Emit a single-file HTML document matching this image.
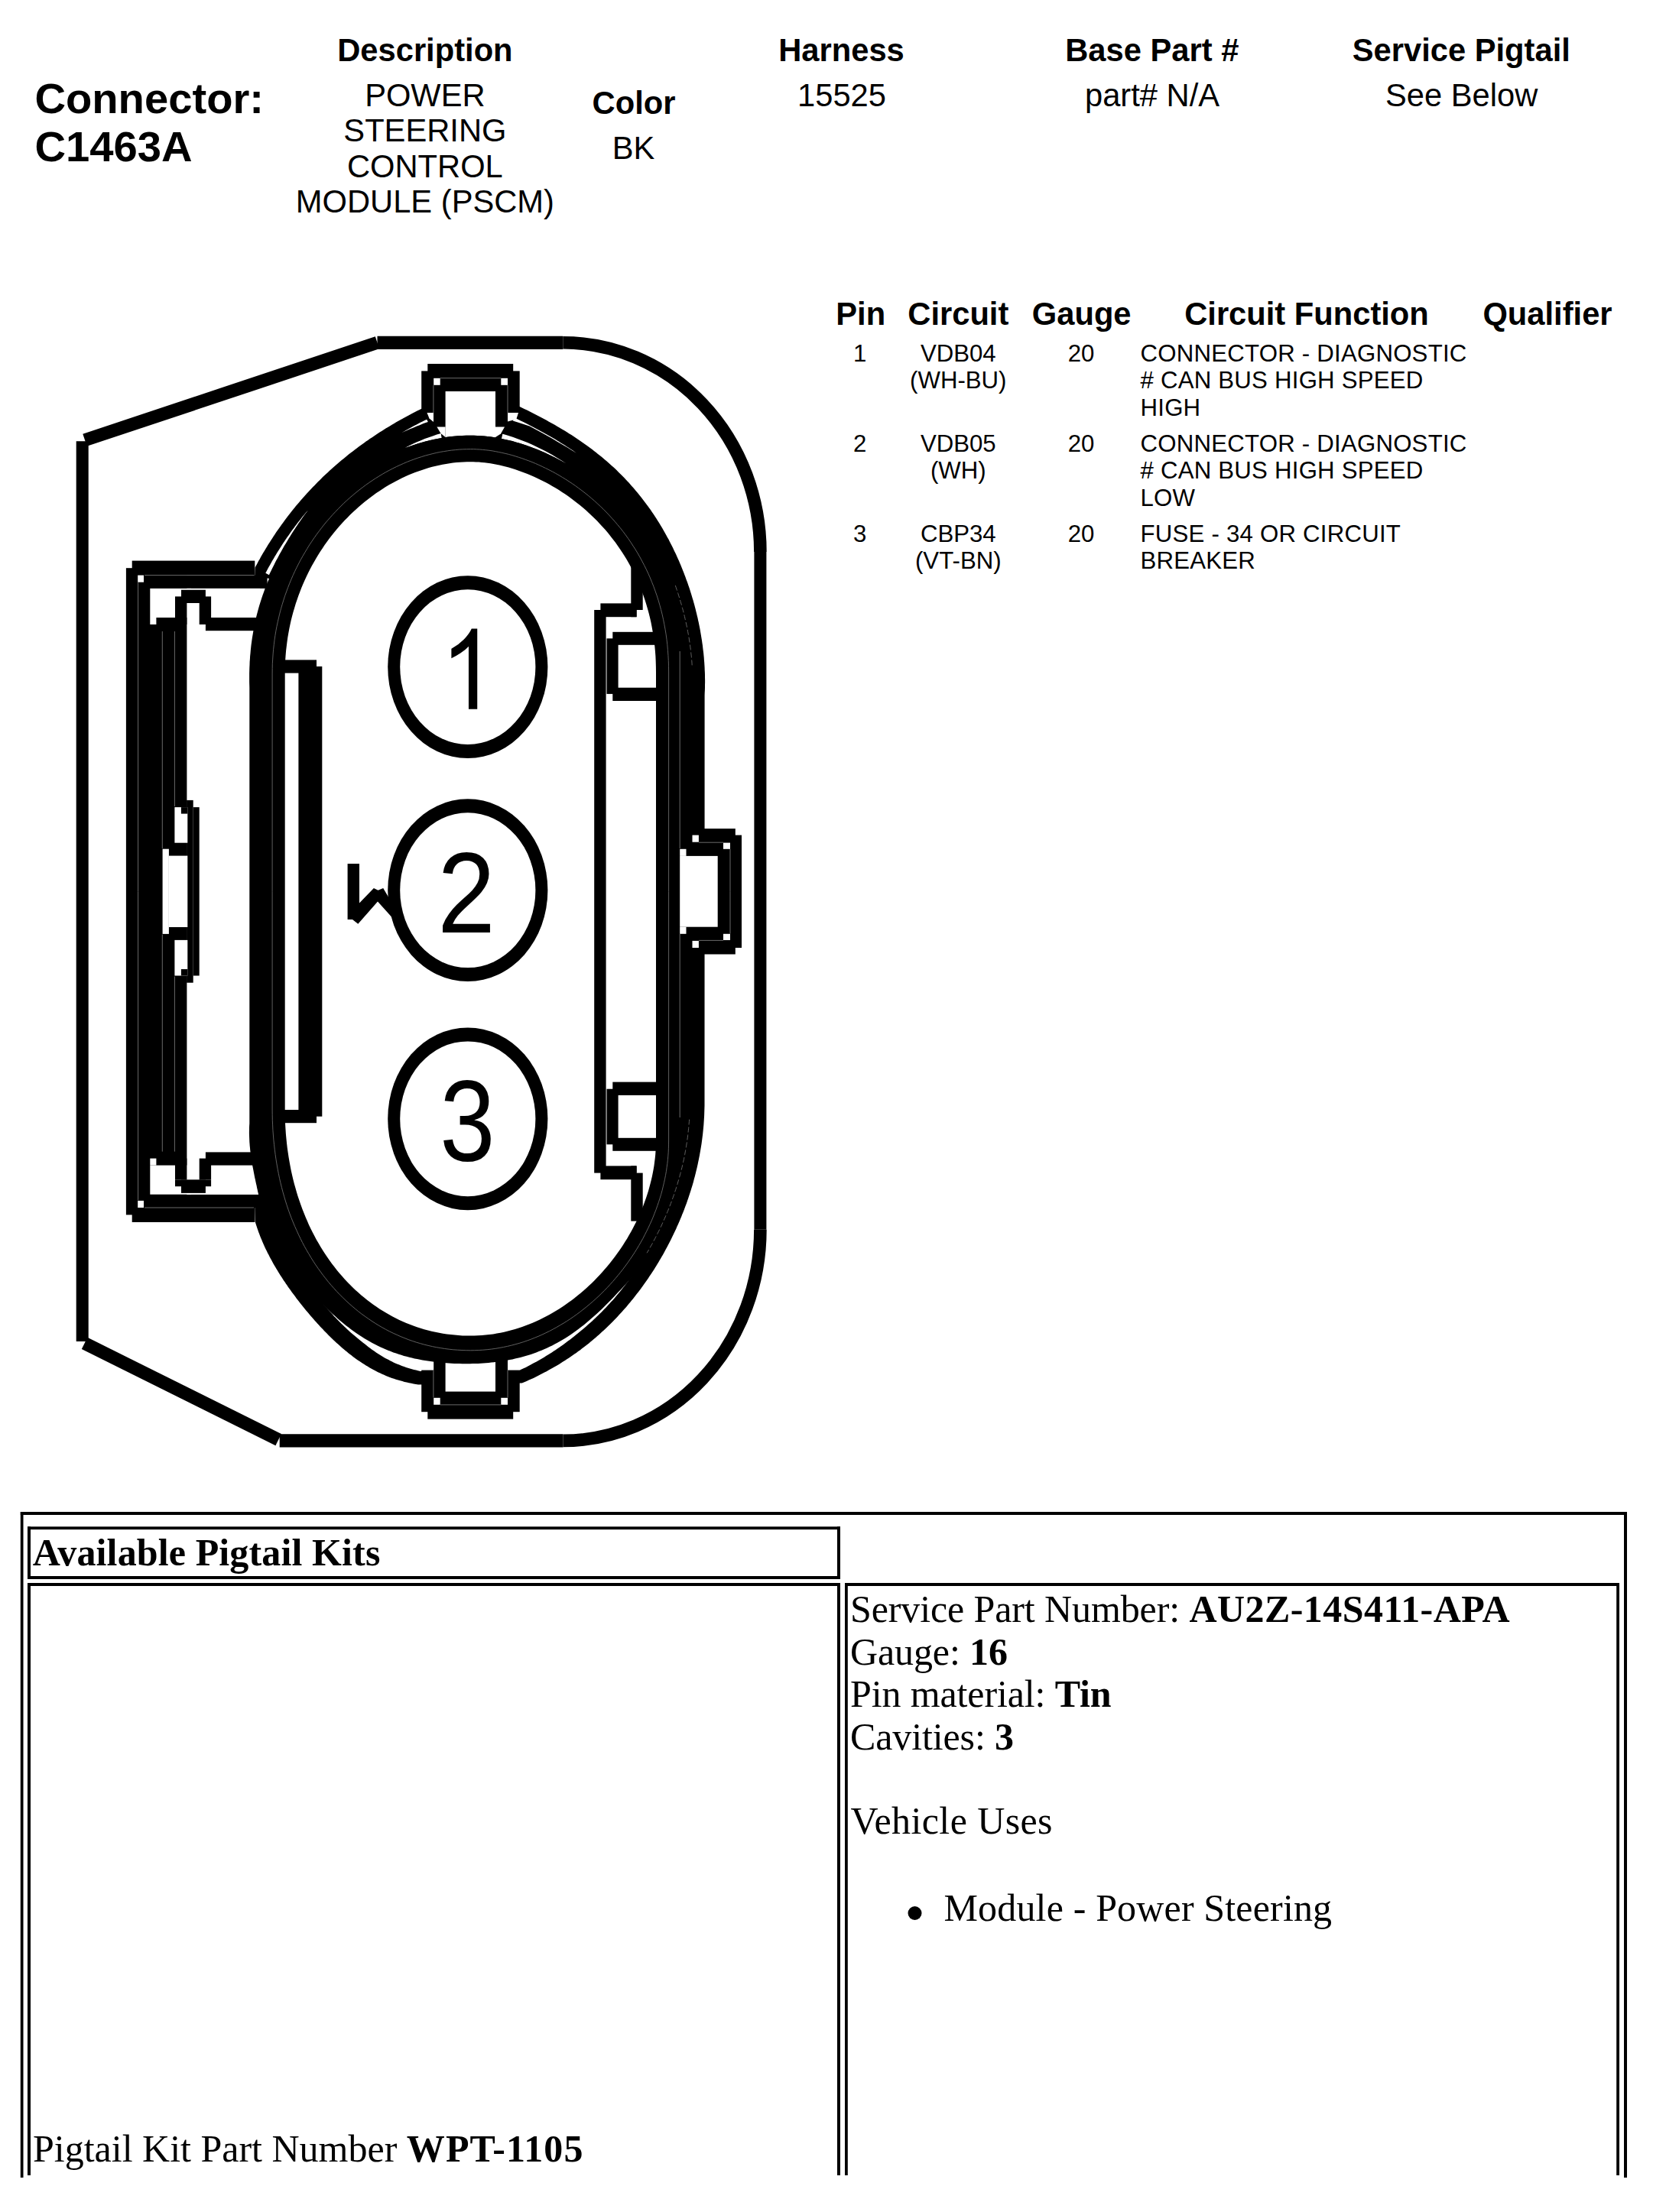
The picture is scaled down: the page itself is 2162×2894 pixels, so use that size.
<!DOCTYPE html>
<html><head><meta charset="utf-8"><title>Connector C1463A</title>
<style>html,body{margin:0;padding:0;background:#fff;}svg{display:block;}text{fill:#000;}</style>
</head><body>
<svg width="2162" height="2894" viewBox="0 0 2162 2894">
<rect x="0" y="0" width="2162" height="2894" fill="#fff"/>
<text x="45.4" y="147.6" font-family="'Liberation Sans', sans-serif" font-size="56.2" font-weight="bold" text-anchor="start">Connector:</text>
<text x="45.4" y="210.7" font-family="'Liberation Sans', sans-serif" font-size="56.2" font-weight="bold" text-anchor="start">C1463A</text>
<text x="555.9" y="80" font-family="'Liberation Sans', sans-serif" font-size="41.7" font-weight="bold" text-anchor="middle">Description</text>
<text x="555.9" y="138.6" font-family="'Liberation Sans', sans-serif" font-size="41.7" font-weight="normal" text-anchor="middle">POWER</text>
<text x="555.9" y="185.1" font-family="'Liberation Sans', sans-serif" font-size="41.7" font-weight="normal" text-anchor="middle">STEERING</text>
<text x="555.9" y="231.6" font-family="'Liberation Sans', sans-serif" font-size="41.7" font-weight="normal" text-anchor="middle">CONTROL</text>
<text x="555.9" y="278.1" font-family="'Liberation Sans', sans-serif" font-size="41.7" font-weight="normal" text-anchor="middle">MODULE (PSCM)</text>
<text x="829" y="149" font-family="'Liberation Sans', sans-serif" font-size="41.7" font-weight="bold" text-anchor="middle">Color</text>
<text x="828.5" y="208" font-family="'Liberation Sans', sans-serif" font-size="41.7" font-weight="normal" text-anchor="middle">BK</text>
<text x="1100.5" y="80" font-family="'Liberation Sans', sans-serif" font-size="41.7" font-weight="bold" text-anchor="middle">Harness</text>
<text x="1101" y="138.6" font-family="'Liberation Sans', sans-serif" font-size="41.7" font-weight="normal" text-anchor="middle">15525</text>
<text x="1506.8" y="80" font-family="'Liberation Sans', sans-serif" font-size="41.7" font-weight="bold" text-anchor="middle">Base Part #</text>
<text x="1507" y="138.6" font-family="'Liberation Sans', sans-serif" font-size="41.7" font-weight="normal" text-anchor="middle">part# N/A</text>
<text x="1911.3" y="80" font-family="'Liberation Sans', sans-serif" font-size="41.7" font-weight="bold" text-anchor="middle">Service Pigtail</text>
<text x="1911.6" y="138.6" font-family="'Liberation Sans', sans-serif" font-size="41.7" font-weight="normal" text-anchor="middle">See Below</text>
<text x="1125.7" y="424.7" font-family="'Liberation Sans', sans-serif" font-size="41.7" font-weight="bold" text-anchor="middle">Pin</text>
<text x="1253.3" y="424.7" font-family="'Liberation Sans', sans-serif" font-size="41.7" font-weight="bold" text-anchor="middle">Circuit</text>
<text x="1414.7" y="424.7" font-family="'Liberation Sans', sans-serif" font-size="41.7" font-weight="bold" text-anchor="middle">Gauge</text>
<text x="1709" y="424.7" font-family="'Liberation Sans', sans-serif" font-size="41.7" font-weight="bold" text-anchor="middle">Circuit Function</text>
<text x="2024" y="424.7" font-family="'Liberation Sans', sans-serif" font-size="41.7" font-weight="bold" text-anchor="middle">Qualifier</text>
<text x="1124.7" y="473.3" font-family="'Liberation Sans', sans-serif" font-size="31.2" font-weight="normal" text-anchor="middle">1</text>
<text x="1253.3" y="473.3" font-family="'Liberation Sans', sans-serif" font-size="31.2" font-weight="normal" text-anchor="middle">VDB04</text>
<text x="1253.3" y="508.4" font-family="'Liberation Sans', sans-serif" font-size="31.2" font-weight="normal" text-anchor="middle">(WH-BU)</text>
<text x="1414" y="473.3" font-family="'Liberation Sans', sans-serif" font-size="31.2" font-weight="normal" text-anchor="middle">20</text>
<text x="1491.5" y="473.3" font-family="'Liberation Sans', sans-serif" font-size="31.2" font-weight="normal" text-anchor="start" letter-spacing="0.22">CONNECTOR - DIAGNOSTIC</text>
<text x="1491.5" y="508.4" font-family="'Liberation Sans', sans-serif" font-size="31.2" font-weight="normal" text-anchor="start" letter-spacing="0.22"># CAN BUS HIGH SPEED</text>
<text x="1491.5" y="543.5" font-family="'Liberation Sans', sans-serif" font-size="31.2" font-weight="normal" text-anchor="start" letter-spacing="0.22">HIGH</text>
<text x="1124.7" y="591.3" font-family="'Liberation Sans', sans-serif" font-size="31.2" font-weight="normal" text-anchor="middle">2</text>
<text x="1253.3" y="591.3" font-family="'Liberation Sans', sans-serif" font-size="31.2" font-weight="normal" text-anchor="middle">VDB05</text>
<text x="1253.3" y="626.4" font-family="'Liberation Sans', sans-serif" font-size="31.2" font-weight="normal" text-anchor="middle">(WH)</text>
<text x="1414" y="591.3" font-family="'Liberation Sans', sans-serif" font-size="31.2" font-weight="normal" text-anchor="middle">20</text>
<text x="1491.5" y="591.3" font-family="'Liberation Sans', sans-serif" font-size="31.2" font-weight="normal" text-anchor="start" letter-spacing="0.22">CONNECTOR - DIAGNOSTIC</text>
<text x="1491.5" y="626.4" font-family="'Liberation Sans', sans-serif" font-size="31.2" font-weight="normal" text-anchor="start" letter-spacing="0.22"># CAN BUS HIGH SPEED</text>
<text x="1491.5" y="661.5" font-family="'Liberation Sans', sans-serif" font-size="31.2" font-weight="normal" text-anchor="start" letter-spacing="0.22">LOW</text>
<text x="1124.7" y="709.3" font-family="'Liberation Sans', sans-serif" font-size="31.2" font-weight="normal" text-anchor="middle">3</text>
<text x="1253.3" y="709.3" font-family="'Liberation Sans', sans-serif" font-size="31.2" font-weight="normal" text-anchor="middle">CBP34</text>
<text x="1253.3" y="744.4" font-family="'Liberation Sans', sans-serif" font-size="31.2" font-weight="normal" text-anchor="middle">(VT-BN)</text>
<text x="1414" y="709.3" font-family="'Liberation Sans', sans-serif" font-size="31.2" font-weight="normal" text-anchor="middle">20</text>
<text x="1491.5" y="709.3" font-family="'Liberation Sans', sans-serif" font-size="31.2" font-weight="normal" text-anchor="start" letter-spacing="0.22">FUSE - 34 OR CIRCUIT</text>
<text x="1491.5" y="744.4" font-family="'Liberation Sans', sans-serif" font-size="31.2" font-weight="normal" text-anchor="start" letter-spacing="0.22">BREAKER</text>
<rect x="26.8" y="1978" width="2101.2" height="4" fill="#000"/>
<rect x="26.8" y="1978" width="3.7" height="871" fill="#000"/>
<rect x="2124" y="1978" width="4" height="871" fill="#000"/>
<rect x="36" y="1997.3" width="1063" height="3.8" fill="#000"/>
<rect x="36" y="2062" width="1063" height="4" fill="#000"/>
<rect x="36" y="1997.3" width="4" height="68.7" fill="#000"/>
<rect x="1095" y="1997.3" width="4" height="68.7" fill="#000"/>
<rect x="36" y="2071" width="1063" height="4" fill="#000"/>
<rect x="36" y="2071" width="4" height="775" fill="#000"/>
<rect x="1095" y="2071" width="4" height="775" fill="#000"/>
<rect x="1105" y="2071" width="1013" height="4" fill="#000"/>
<rect x="1105" y="2071" width="3.8" height="775" fill="#000"/>
<rect x="2114.2" y="2071" width="3.8" height="775" fill="#000"/>
<text x="42.8" y="2048.3" font-family="'Liberation Serif', serif" font-size="50" font-weight="bold" text-anchor="start" letter-spacing="0.13">Available Pigtail Kits</text>
<text x="43" y="2828" font-family="'Liberation Serif', serif" font-size="50">Pigtail Kit Part Number <tspan font-weight="bold" letter-spacing="1.05">WPT-1105</tspan></text>
<text x="1112" y="2122" font-family="'Liberation Serif', serif" font-size="50" letter-spacing="-0.11">Service Part Number: <tspan font-weight="bold" letter-spacing="0.45">AU2Z-14S411-APA</tspan></text>
<text x="1112" y="2177.5" font-family="'Liberation Serif', serif" font-size="50" letter-spacing="-0.12">Gauge: <tspan font-weight="bold" letter-spacing="-0.12">16</tspan></text>
<text x="1112" y="2233" font-family="'Liberation Serif', serif" font-size="50" letter-spacing="-0.12">Pin material: <tspan font-weight="bold" letter-spacing="-0.12">Tin</tspan></text>
<text x="1112" y="2288.5" font-family="'Liberation Serif', serif" font-size="50" letter-spacing="-0.12">Cavities: <tspan font-weight="bold" letter-spacing="-0.12">3</tspan></text>
<text x="1112.5" y="2398.8" font-family="'Liberation Serif', serif" font-size="50" font-weight="normal" text-anchor="start" letter-spacing="0.4">Vehicle Uses</text>
<circle cx="1196.5" cy="2503" r="9" fill="#000"/>
<text x="1234.5" y="2512.6" font-family="'Liberation Serif', serif" font-size="50" font-weight="normal" text-anchor="start" letter-spacing="0.16">Module - Power Steering</text>
<g id="drawing">
<line x1="107.7" y1="577.3" x2="107.7" y2="1754.9" stroke="#000" stroke-width="16"/>
<line x1="111" y1="575.8" x2="493.5" y2="448.3" stroke="#000" stroke-width="17"/>
<line x1="110.6" y1="1757.4" x2="364.2" y2="1883.7" stroke="#000" stroke-width="17"/>
<line x1="493.5" y1="448.3" x2="736.3" y2="448.3" stroke="#000" stroke-width="17.3"/>
<line x1="365.7" y1="1884.9" x2="736.4" y2="1884.9" stroke="#000" stroke-width="17.4"/>
<line x1="994.4" y1="722" x2="994.4" y2="1608.7" stroke="#000" stroke-width="16"/>
<path d="M736.3 448.3A258.1 273.7 0 0 1 994.4 722" fill="none" stroke="#000" stroke-width="16.6"/>
<path d="M994.4 1608.7A258 276.2 0 0 1 736.4 1884.9" fill="none" stroke="#000" stroke-width="16.6"/>
<rect x="164.9" y="743.2" width="79.5" height="846.2" fill="#000"/>
<rect x="172.7" y="733.6" width="160.6" height="19" fill="#000"/>
<rect x="172.7" y="1580" width="160.6" height="19" fill="#000"/>
<rect x="188" y="752.6" width="161.6" height="17.3" fill="#000"/>
<rect x="188" y="1562.7" width="161.6" height="17.3" fill="#000"/>
<rect x="180.2" y="752.6" width="7.8" height="9.1" fill="#fff"/>
<rect x="180.2" y="1570.9" width="7.8" height="9.1" fill="#fff"/>
<rect x="196.3" y="769.9" width="53.7" height="38.1" fill="#fff"/>
<rect x="196.3" y="1524.6" width="53.7" height="38.1" fill="#fff"/>
<rect x="196.3" y="808" width="8.1" height="9" fill="#fff"/>
<rect x="196.3" y="1515.6" width="8.1" height="9" fill="#fff"/>
<rect x="244.4" y="769.9" width="95.6" height="38.1" fill="#fff"/>
<rect x="244.4" y="1524.6" width="95.6" height="38.1" fill="#fff"/>
<rect x="237" y="771.7" width="31.9" height="17.3" fill="#000"/>
<rect x="237" y="1543.6" width="31.9" height="17.3" fill="#000"/>
<rect x="229" y="780.4" width="47.1" height="8.6" fill="#000"/>
<rect x="229" y="1543.6" width="47.1" height="8.6" fill="#000"/>
<rect x="229" y="789" width="15.4" height="28" fill="#000"/>
<rect x="229" y="1515.6" width="15.4" height="28" fill="#000"/>
<rect x="260.7" y="789" width="15.4" height="28" fill="#000"/>
<rect x="260.7" y="1515.6" width="15.4" height="28" fill="#000"/>
<rect x="268.9" y="808" width="67.1" height="17.2" fill="#000"/>
<rect x="268.9" y="1507.4" width="67.1" height="17.2" fill="#000"/>
<rect x="244.1" y="1046.9" width="8.6" height="238.8" fill="#000"/>
<rect x="252.7" y="1056.1" width="8" height="220.4" fill="#000"/>
<rect x="228.4" y="1056.1" width="16.9" height="46.6" fill="#fff"/>
<rect x="228.4" y="1229.9" width="16.9" height="46.6" fill="#fff"/>
<rect x="236.9" y="1056.1" width="8.4" height="8.5" fill="#000"/>
<rect x="236.9" y="1268" width="8.4" height="8.5" fill="#000"/>
<rect x="220.9" y="1119.6" width="24.4" height="93.4" fill="#fff"/>
<rect x="212.6" y="1110.7" width="8.3" height="111.2" fill="#fff"/>
<path d="M333.3 753L333.6 742.6L335.1 739.8L336.6 736.9L338.1 734.1L339.7 731.4L341.2 728.6L342.8 725.8L344.4 723.1L346 720.4L347.6 717.7L349.3 715L350.9 712.3L352.6 709.7L354.3 707L356 704.4L357.7 701.8L359.4 699.2L361.1 696.6L362.9 694L364.7 691.5L366.5 689L368.2 686.4L370.1 683.9L371.9 681.5L373.7 679L375.6 676.5L377.5 674.1L379.3 671.7L381.2 669.2L383.2 666.8L385.1 664.5L387 662.1L389 659.7L391 657.4L393 655.1L395 652.8L397 650.5L399 648.2L401 645.9L403.1 643.7L405.2 641.5L407.3 639.2L409.4 637L411.5 634.9L413.6 632.7L415.7 630.5L417.9 628.4L420.1 626.2L422.2 624.1L424.4 622L426.6 619.9L428.9 617.9L431.1 615.8L433.4 613.8L435.6 611.7L437.9 609.7L440.2 607.7L442.5 605.7L444.8 603.8L447.2 601.8L449.5 599.9L451.9 597.9L454.2 596L456.6 594.1L459 592.2L461.4 590.4L463.9 588.5L466.3 586.7L468.8 584.8L471.2 583L473.7 581.2L476.2 579.4L478.7 577.6L481.2 575.9L483.8 574.1L486.3 572.4L488.9 570.7L491.4 569L494 567.3L496.6 565.6L499.2 563.9L501.9 562.3L504.5 560.6L507.2 559L509.8 557.4L512.5 555.8L515.2 554.2L517.9 552.6L520.6 551.1L523.3 549.5L526.1 548L528.8 546.5L531.6 545L534.4 543.5L537.1 542L539.9 540.5L542.8 539.1L545.6 537.6L548.4 536.2L551.3 534.8L679.7 532L682.7 533.4L685.7 534.9L688.6 536.3L691.6 537.8L694.5 539.3L697.4 540.8L700.3 542.2L703.2 543.7L706.1 545.3L709 546.8L711.8 548.3L714.7 549.8L717.5 551.4L720.3 552.9L723.1 554.5L725.9 556.1L728.6 557.7L731.3 559.3L734.1 560.9L736.8 562.5L739.4 564.1L742.1 565.8L744.7 567.4L747.4 569.1L750 570.8L752.6 572.5L755.1 574.2L757.7 575.9L760.2 577.7L762.7 579.4L765.2 581.2L767.7 582.9L770.1 584.7L772.5 586.5L774.9 588.3L777.3 590.2L779.7 592L782 593.9L784.3 595.7L786.6 597.6L788.9 599.5L791.2 601.4L793.4 603.3L795.6 605.3L797.8 607.2L800 609.2L802.1 611.1L804.3 613.1L806.4 615.1L808.5 617.2L810.5 619.2L812.6 621.2L814.6 623.3L816.6 625.3L818.6 627.4L820.5 629.5L822.5 631.6L824.4 633.7L826.3 635.9L828.2 638L830.1 640.2L831.9 642.4L833.7 644.5L835.5 646.7L837.3 649L839.1 651.2L840.8 653.4L842.5 655.7L844.2 657.9L845.9 660.2L847.6 662.5L849.2 664.8L850.9 667.1L852.5 669.4L854.1 671.7L855.6 674.1L857.2 676.4L858.7 678.8L860.2 681.2L861.7 683.6L863.2 686L864.7 688.4L866.1 690.8L867.5 693.3L868.9 695.7L870.3 698.2L871.7 700.7L873 703.2L874.4 705.6L875.7 708.2L877 710.7L878.3 713.2L879.6 715.7L880.8 718.3L882 720.9L883.3 723.4L884.5 726L885.6 728.6L886.8 731.2L888 733.8L889.1 736.5L890.2 739.1L891.3 741.7L892.4 744.4L893.4 747.1L894.5 749.7L895.5 752.4L896.5 755.1L897.5 757.9L898.5 760.6L899.5 763.3L900.4 766.1L901.4 768.8L902.3 771.6L903.2 774.4L904 777.1L904.9 779.9L905.7 782.8L906.6 785.6L907.4 788.4L908.2 791.3L908.9 794.1L909.7 797L910.4 799.9L911.1 802.8L911.8 805.7L912.5 808.6L913.1 811.5L913.8 814.5L914.4 817.4L915 820.4L915.6 823.4L916.1 826.4L916.6 829.4L917.1 832.4L917.6 835.5L918.1 838.5L918.5 841.6L919 844.7L919.3 847.8L919.7 850.9L920.1 854L920.4 857.2L920.7 860.3L920.9 863.5L921.2 866.7L921.4 869.9L921.6 873.2L921.7 876.4L921.9 879.7L922 883L922 886.3L922.1 889.6L922.1 893L922 896.3L922 899.7L921.9 903.1L921.7 906.6L921.6 910L921.5 1440L921.5 1443.3L921.5 1446.6L921.4 1449.8L921.3 1453.1L921.2 1456.3L921.1 1459.5L920.9 1462.7L920.7 1465.9L920.5 1469L920.3 1472.2L920 1475.3L919.7 1478.4L919.4 1481.5L919.1 1484.5L918.7 1487.6L918.3 1490.7L917.9 1493.7L917.5 1496.7L917 1499.7L916.5 1502.7L916 1505.7L915.5 1508.6L915 1511.6L914.4 1514.5L913.8 1517.4L913.2 1520.3L912.6 1523.2L912 1526.1L911.3 1529L910.6 1531.8L909.9 1534.7L909.2 1537.5L908.5 1540.3L907.7 1543.1L907 1545.9L906.2 1548.7L905.4 1551.5L904.5 1554.2L903.7 1557L902.8 1559.7L901.9 1562.5L901 1565.2L900.1 1567.9L899.2 1570.6L898.3 1573.3L897.3 1575.9L896.3 1578.6L895.3 1581.2L894.3 1583.9L893.3 1586.5L892.2 1589.1L891.2 1591.7L890.1 1594.3L889 1596.9L887.9 1599.5L886.8 1602.1L885.6 1604.6L884.5 1607.2L883.3 1609.7L882.1 1612.3L880.9 1614.8L879.7 1617.3L878.5 1619.8L877.3 1622.3L876 1624.8L874.7 1627.2L873.4 1629.7L872.1 1632.2L870.8 1634.6L869.5 1637L868.2 1639.5L866.8 1641.9L865.4 1644.3L864 1646.7L862.6 1649.1L861.2 1651.5L859.8 1653.8L858.3 1656.2L856.9 1658.5L855.4 1660.9L853.9 1663.2L852.4 1665.5L850.9 1667.8L849.3 1670.1L847.8 1672.4L846.2 1674.7L844.6 1677L843 1679.3L841.4 1681.5L839.8 1683.8L838.2 1686L836.5 1688.2L834.8 1690.4L833.1 1692.6L831.4 1694.8L829.7 1697L828 1699.2L826.2 1701.3L824.5 1703.5L822.7 1705.6L820.9 1707.8L819.1 1709.9L817.2 1712L815.4 1714.1L813.5 1716.2L811.6 1718.3L809.7 1720.3L807.8 1722.4L805.9 1724.4L803.9 1726.5L802 1728.5L800 1730.5L798 1732.5L795.9 1734.5L793.9 1736.5L791.8 1738.4L789.7 1740.4L787.6 1742.3L785.5 1744.2L783.4 1746.2L781.2 1748.1L779.1 1749.9L776.9 1751.8L774.6 1753.7L772.4 1755.5L770.2 1757.4L767.9 1759.2L765.6 1761L763.3 1762.8L760.9 1764.6L758.6 1766.4L756.2 1768.1L753.8 1769.9L751.3 1771.6L748.9 1773.3L746.4 1775L743.9 1776.7L741.4 1778.3L738.9 1780L736.3 1781.6L733.7 1783.2L731.1 1784.9L728.5 1786.4L725.8 1788L723.1 1789.6L720.4 1791.1L717.7 1792.6L714.9 1794.2L712.1 1795.6L709.3 1797.1L706.4 1798.6L703.6 1800L700.7 1801.4L697.8 1802.9L694.8 1804.2L691.8 1805.6L688.8 1807L685.8 1808.3L682.7 1809.6L547 1811.4L543.9 1810.9L540.9 1810.4L537.8 1809.8L534.9 1809.2L531.9 1808.6L529 1807.9L526.2 1807.1L523.4 1806.3L520.6 1805.5L517.9 1804.7L515.2 1803.8L512.5 1802.9L509.9 1801.9L507.3 1800.9L504.8 1799.9L502.3 1798.8L499.8 1797.7L497.3 1796.6L494.9 1795.4L492.5 1794.2L490.2 1793L487.8 1791.7L485.5 1790.5L483.2 1789.2L481 1787.8L478.7 1786.5L476.5 1785.1L474.4 1783.7L472.2 1782.3L470 1780.8L467.9 1779.4L465.8 1777.9L463.8 1776.4L461.7 1774.9L459.7 1773.3L457.6 1771.7L455.6 1770.2L453.7 1768.6L451.7 1766.9L449.7 1765.3L447.8 1763.7L445.9 1762L444 1760.3L442.1 1758.6L440.2 1756.9L438.4 1755.2L436.5 1753.4L434.7 1751.7L432.9 1749.9L431.1 1748.2L429.3 1746.4L427.5 1744.6L425.7 1742.8L423.9 1740.9L422.2 1739.1L420.4 1737.3L418.7 1735.4L417 1733.6L415.3 1731.7L413.6 1729.8L411.9 1727.9L410.2 1726L408.5 1724.1L406.9 1722.2L405.2 1720.2L403.6 1718.3L401.9 1716.3L400.3 1714.4L398.7 1712.4L397.1 1710.4L395.5 1708.5L393.9 1706.5L392.3 1704.5L390.8 1702.4L389.2 1700.4L387.6 1698.4L386.1 1696.3L384.6 1694.3L383 1692.2L381.5 1690.2L380 1688.1L378.5 1686L377 1683.9L375.6 1681.8L374.1 1679.7L372.7 1677.5L371.2 1675.4L369.8 1673.2L368.4 1671L367 1668.9L365.6 1666.7L364.2 1664.5L362.9 1662.2L361.5 1660L360.2 1657.8L358.8 1655.5L357.5 1653.2L356.3 1650.9L355 1648.6L353.7 1646.3L352.5 1643.9L351.3 1641.6L350 1639.2L348.9 1636.8L347.7 1634.4L346.5 1632L345.4 1629.5L344.3 1627L343.2 1624.5L342.2 1622L341.1 1619.5L340.1 1616.9L339.1 1614.3L338.1 1611.7L337.2 1609L336.3 1606.4L335.4 1603.7L334.5 1601L333.7 1598.2L333.3 1580L340 1572L339.5 1569.4L338.9 1566.8L338.4 1564.2L337.8 1561.6L337.2 1559.1L336.7 1556.5L336.1 1553.9L335.6 1551.3L335 1548.7L334.4 1546.1L333.9 1543.5L333.3 1540.9L332.8 1538.4L332.3 1535.8L331.8 1533.2L331.3 1530.6L330.8 1528L330.3 1525.4L329.9 1522.8L329.4 1520.2L329 1517.6L328.6 1515L328.2 1512.3L327.9 1509.7L327.5 1507.1L327.2 1504.5L327 1501.9L326.7 1499.2L326.5 1496.6L326.3 1494L326.2 1491.3L326.1 1488.7L326 1486L325.9 1483.4L325.9 1480.7L326 1478L326 1475.4L326.1 1472.7L326.3 1470L326.3 900L326.2 896.2L326.1 892.4L326.1 888.6L326.1 884.8L326.1 881L326.2 877.3L326.3 873.5L326.5 869.7L326.6 866L326.9 862.3L327.1 858.5L327.5 854.8L327.8 851.1L328.2 847.3L328.6 843.6L329.1 839.9L329.6 836.2L330.2 832.6L330.8 828.9L331.4 825.2L332.1 821.6L332.8 817.9L333.6 814.2L334.4 810.6L335.2 807L336.1 803.4L337.1 799.7L338.1 796.1L339.1 792.5L340.2 788.9L341.3 785.4L342.5 781.8L343.7 778.2L345 774.7L346.3 771.1L347.6 767.6L349 764L350.5 760.5L352 757Z" fill="#000"/>
<path d="M847.5 1637L846.1 1639.3L844.8 1641.6L843.4 1643.8L842 1646.1L840.6 1648.3L839.2 1650.6L837.8 1652.8L836.3 1655L834.9 1657.2L833.4 1659.4L831.9 1661.6L830.4 1663.8L828.9 1666L827.4 1668.1L825.9 1670.3L824.3 1672.4L822.7 1674.6L821.2 1676.7L819.6 1678.8L817.9 1680.9L816.3 1683L814.7 1685.1L813 1687.2L811.4 1689.2L809.7 1691.3L808 1693.3L806.3 1695.3L804.5 1697.4L802.8 1699.4L801 1701.4L799.2 1703.3L797.5 1705.3L795.6 1707.3L793.8 1709.2L792 1711.2L790.1 1713.1L788.3 1715L786.4 1717L784.5 1718.8L782.5 1720.7L780.6 1722.6L778.6 1724.5L776.7 1726.3L774.7 1728.2L772.7 1730L770.6 1731.8L768.6 1733.6L766.5 1735.4L764.5 1737.2L762.4 1738.9L760.2 1740.7L758.1 1742.4L756 1744.2L753.8 1746L751.7 1747.7L749.5 1749.5L747.3 1751.2L745.1 1752.9L742.8 1754.6L740.6 1756.3L738.3 1758L736 1759.7L733.7 1761.3L731.3 1763L729 1764.6L726.6 1766.2L724.1 1767.8L721.7 1769.4L719.2 1771L716.8 1772.6L714.2 1774.1L711.7 1775.7L709.1 1777.2L706.5 1778.7L703.9 1780.2L701.3 1781.7L698.6 1783.1L695.9 1784.6L693.2 1786L690.4 1787.5L687.7 1788.9L684.8 1790.3L682 1791.6L679.1 1793L676.2 1794.4L549.7 1793.9L546.7 1793.2L544 1792.6L541.3 1791.9L538.7 1791.2L536.1 1790.5L533.6 1789.7L531.1 1788.9L528.6 1788L526.2 1787.2L523.8 1786.3L521.5 1785.3L519.2 1784.4L516.9 1783.4L514.7 1782.4L512.5 1781.3L510.3 1780.2L508.2 1779.1L506.1 1778L504 1776.9L501.9 1775.7L499.9 1774.5L497.9 1773.3L495.9 1772L493.9 1770.7L491.9 1769.5L490 1768.1L488.1 1766.8L486.2 1765.4L484.3 1764.1L482.5 1762.7L480.6 1761.2L478.8 1759.8L477 1758.3L475.2 1756.9L473.4 1755.5L471.5 1754L469.7 1752.6L467.9 1751.1L466.1 1749.6L464.3 1748.1L462.5 1746.6L460.7 1745.1L458.9 1743.5L457.2 1741.9L455.4 1740.3L453.7 1738.7L452 1737.1L450.3 1735.5L448.6 1733.8L446.9 1732.2L445.2 1730.5L443.5 1728.8L441.8 1727.1L440.1 1725.3L438.5 1723.6L436.8 1721.9L435.2 1720.1L433.6 1718.3L431.9 1716.6L430.3 1714.8L428.7 1713L427.1 1711.1L425.5 1709.3L423.9 1707.5L422.4 1705.6L420.8 1703.8L419.2 1701.9L417.7 1700.1L416.1 1698.2L414.6 1696.3L413.1 1694.4L411.5 1692.5L410 1690.6L408.5 1688.6L407 1686.7L405.6 1684.8L404.1 1682.8L402.6 1680.9L401.2 1678.9L399.7 1676.9L398.3 1675L396.9 1673L395.5 1671L394.1 1669Z" fill="#fff"/>
<rect x="559.3" y="476" width="111.9" height="19" fill="#000"/>
<rect x="559.3" y="1837.6" width="111.9" height="19" fill="#000"/>
<rect x="551.2" y="485.4" width="128.5" height="54.6" fill="#000"/>
<rect x="551.2" y="1792.6" width="128.5" height="54.6" fill="#000"/>
<rect x="567.2" y="503.8" width="96.8" height="54.8" fill="#000"/>
<rect x="567.2" y="1774" width="96.8" height="54.8" fill="#000"/>
<rect x="582.6" y="512" width="65.4" height="63" fill="#fff"/>
<rect x="582.6" y="1757.6" width="65.4" height="63" fill="#fff"/>
<rect x="567.2" y="494.8" width="8.5" height="9" fill="#fff"/>
<rect x="567.2" y="1828.8" width="8.5" height="9" fill="#fff"/>
<rect x="655.3" y="494.8" width="8.7" height="9" fill="#fff"/>
<rect x="655.3" y="1828.8" width="8.7" height="9" fill="#fff"/>
<path d="M347.3 749.8L348.8 747.1L350.2 744.3L351.7 741.6L353.2 738.9L354.7 736.3L356.2 733.6L357.8 730.9L359.3 728.3L360.9 725.7L362.5 723.1L364.1 720.5L365.7 717.9L367.3 715.4L369 712.8L370.6 710.3L372.3 707.8L374 705.3L375.7 702.8L377.4 700.4L379.1 697.9L380.8 695.5L382.6 693.1L384.4 690.7L386.1 688.3L387.9 685.9L389.7 683.5L391.6 681.2L393.4 678.9L395.2 676.6L397.1 674.3L399 672L400.9 669.7L402.8 667.4L402.8 667.5L401.1 669.9L399.3 672.2L397.6 674.6L395.8 677L394.1 679.5L392.4 681.9L390.7 684.3L389.1 686.8L387.4 689.2L385.8 691.7L384.1 694.2L382.5 696.7L380.9 699.2L379.4 701.8L377.8 704.3L376.2 706.9L374.7 709.4L373.2 712L371.6 714.6L370.1 717.2L368.7 719.8L367.2 722.4L365.7 725.1L364.3 727.7L362.9 730.4L361.4 733.1L360 735.8L358.7 738.5L357.3 741.2L355.9 743.9L354.6 746.7L353.2 749.5L351.9 752.3Z" fill="#fff"/>
<path d="M525.6 566L528.3 564.5L530.9 563L533.6 561.5L536.3 560L539 558.6L541.7 557.1L544.4 555.7L547.1 554.3L549.8 552.8L552.6 551.4L555.4 550.1L558.2 548.7L559.8 551.9L556.8 553L553.9 554.1L551.1 555.2L548.2 556.4L545.3 557.5L542.5 558.7L539.7 559.9L536.8 561.1L534 562.3L531.2 563.6L528.4 564.8L525.7 566.1Z" fill="#fff"/>
<path d="M672.7 546.4L675.7 547.8L678.6 549.3L681.5 550.7L684.4 552.1L687.3 553.6L690.2 555L693 556.5L695.9 557.9L698.7 559.4L701.5 560.9L704.3 562.4L707 563.9L709.8 565.4L712.5 566.9L715.2 568.4L717.9 570L720.6 571.5L723.2 573.1L725.9 574.6L728.5 576.2L731.1 577.8L733.6 579.4L736.2 581L738.7 582.6L741.2 584.2L743.7 585.8L746.2 587.5L748.7 589.1L751.1 590.8L753.5 592.5L753.4 592.6L751 591L748.5 589.4L746 587.9L743.4 586.3L740.9 584.7L738.3 583.2L735.7 581.7L733.1 580.2L730.5 578.7L727.9 577.2L725.2 575.6L722.6 574.1L720 572.5L717.3 571L714.6 569.5L711.9 567.9L709.2 566.4L706.4 564.9L703.7 563.4L700.9 562L698.1 560.5L695.3 559L692.5 557.5L689.4 556.5L686.4 555.5L683.3 554.5L680.2 553.5L677.1 552.5L673.9 551.5L670.8 550.5Z" fill="#fff"/>
<path d="M664 540H678L675.3 548.5L664 551.5Z" fill="#fff"/>
<path d="M567 540H558.5L561.5 547.6L567 552Z" fill="#fff"/>
<path d="M338.2 1166.3L338.2 881L338.3 874.3L338.5 867.7L338.8 861L339.2 854.5L339.8 847.9L340.5 841.5L341.3 835L342.2 828.7L343.3 822.3L344.5 816.1L345.8 809.8L347.2 803.7L348.7 797.5L350.3 791.5L352 785.5L353.9 779.5L355.8 773.7L357.8 767.8L360 762.1L362.2 756.4L364.6 750.8L367 745.2L369.5 739.7L372.2 734.3L374.9 728.9L377.7 723.6L380.6 718.4L383.6 713.2L386.6 708.2L389.8 703.2L393 698.2L396.3 693.4L399.7 688.6L403.2 683.9L406.7 679.3L410.3 674.7L414 670.3L417.8 665.9L421.6 661.6L425.5 657.4L429.5 653.3L433.5 649.2L437.6 645.3L441.8 641.4L446 637.6L450.3 633.9L454.6 630.3L459 626.8L463.4 623.4L467.9 620.1L472.5 616.8L477.1 613.7L481.7 610.6L486.4 607.7L491.2 604.9L496 602.1L500.8 599.5L505.7 596.9L510.6 594.5L515.6 592.2L520.6 590L525.6 587.8L530.7 585.8L535.8 583.9L540.9 582.2L546.1 580.5L551.3 578.9L556.5 577.5L561.7 576.2L567 574.9L572.3 573.9L577.6 572.9L583 572.1L588.3 571.3L593.7 570.8L599.1 570.3L604.5 570L609.9 569.8L615.3 569.7L619.8 569.8L624.2 569.9L628.7 570.2L633.2 570.5L637.7 571L642.3 571.6L646.9 572.3L651.4 573L656 573.9L660.7 574.9L665.3 576L670 577.1L674.6 578.4L679.3 579.8L684 581.2L688.6 582.8L693.3 584.4L698 586.2L702.7 588L707.4 590L712.1 592L716.8 594.2L721.5 596.4L726.1 598.7L730.8 601.2L735.4 603.7L740 606.3L744.6 609L749.2 611.9L753.8 614.8L758.3 617.8L762.8 620.9L767.3 624.1L771.7 627.4L776.1 630.9L780.5 634.4L784.8 638L789.1 641.7L793.3 645.5L797.5 649.4L801.7 653.4L805.8 657.6L809.8 661.8L813.7 666.1L817.7 670.5L821.5 675L825.3 679.6L829 684.4L832.6 689.2L836.1 694.1L839.6 699.1L843 704.3L846.3 709.5L849.5 714.8L852.6 720.2L855.6 725.8L858.6 731.4L861.4 737.1L864.1 742.9L866.7 748.8L869.2 754.9L871.6 761L873.9 767.2L876.1 773.5L878.1 779.9L880 786.4L881.8 793L883.5 799.6L885 806.4L886.4 813.3L887.6 820.2L888.8 827.3L889.7 834.4L890.6 841.6L891.3 848.9L891.8 856.3L892.2 863.8L892.4 871.4L892.5 879L892.5 1166.3L864 1632.6L860.5 1635.7L857.1 1638.9L853.6 1642.3L850.2 1645.8L846.7 1649.3L843.2 1653L839.8 1656.7L836.3 1660.4L832.9 1664.2L829.4 1668L825.9 1671.8L822.5 1675.6L819 1679.4L815.6 1683.2L812.1 1686.9L808.6 1690.6L805.2 1694.3L801.7 1697.9L798.3 1701.5L794.8 1705L791.3 1708.5L787.9 1711.9L784.4 1715.2L780.9 1718.4L777.5 1721.6L774 1724.6L770.6 1727.6L767.1 1730.5L763.6 1733.4L760.2 1736.1L756.7 1738.8L753.3 1741.3L749.8 1743.8L746.3 1746.2L742.9 1748.5L739.4 1750.7L736 1752.8L732.5 1754.8L729 1756.8L725.6 1758.6L722.1 1760.4L718.7 1762.1L715.2 1763.7L711.7 1765.3L708.3 1766.7L704.8 1768.1L701.4 1769.5L697.9 1770.7L694.4 1771.9L691 1773L687.5 1774L684.1 1775L680.6 1775.9L677.1 1776.8L673.7 1777.6L670.2 1778.4L666.8 1779.1L663.3 1779.7L659.8 1780.3L656.4 1780.8L652.9 1781.3L649.5 1781.8L646 1782.2L642.5 1782.6L639.1 1782.9L635.6 1783.2L632.2 1783.5L628.7 1783.7L625.2 1783.9L621.8 1784L618.3 1784.1L614.8 1784.2L611.4 1784.2L607.9 1784.2L604.5 1784.2L601 1784.1L597.5 1784L594.1 1783.9L590.6 1783.8L587.2 1783.6L583.7 1783.3L580.2 1783.1L576.8 1782.7L573.3 1782.4L569.9 1782L566.4 1781.6L562.9 1781.1L559.5 1780.6L556 1780.1L552.6 1779.5L549.1 1778.8L545.6 1778.1L542.2 1777.4L538.7 1776.6L535.3 1775.7L531.8 1774.8L528.3 1773.9L524.9 1772.8L521.4 1771.8L518 1770.6L514.5 1769.4L511 1768.1L507.6 1766.7L504.1 1765.3L500.7 1763.8L497.2 1762.2L493.7 1760.5L490.3 1758.8L486.8 1757L483.4 1755.1L479.9 1753.1L476.4 1751L473 1748.8L469.5 1746.6L466.1 1744.2L462.6 1741.8L459.1 1739.2L455.7 1736.6L452.2 1733.9L448.7 1731.1L445.3 1728.2L441.8 1725.2L438.4 1722.1L434.9 1719L431.4 1715.7L428 1712.4L424.5 1709L421.1 1705.5L417.6 1701.9L414.1 1698.3L410.7 1694.6L407.2 1690.8L403.8 1687L400.3 1683.1L396.8 1679.2L393.4 1675.2L389.9 1671.2L386.5 1667.2L383 1663.1Z" fill="#000"/>
<path d="M530.7 585.8L535.8 583.9L540.9 582.2L546.1 580.5L551.3 578.9L556.5 577.5L561.7 576.2L567 574.9L572.3 573.9L577.6 572.9L576.7 567L571.3 568.6L566 570.4L560.8 572.2L555.6 574.1L550.5 576.2L545.4 578.3L540.4 580.6L535.4 583L530.5 585.4Z" fill="#fff"/>
<path d="M656 573.9L660.7 574.9L665.3 576L670 577.1L674.6 578.4L679.3 579.8L684 581.2L688.6 582.8L693.3 584.4L698 586.2L702.7 588L707.4 590L712.1 592L716.8 594.2L721.5 596.4L726.1 598.7L730.8 601.2L735.4 603.7L740 606.3L740.1 606.2L735.6 603.3L731.1 600.5L726.6 597.7L722.1 595.1L717.6 592.5L713 590L708.4 587.7L703.8 585.4L699.2 583.2L694.5 581.1L689.9 579.1L685.3 577.2L680.6 575.4L675.9 573.7L671.3 572L666.6 570.5L661.9 569.1L657.3 567.8Z" fill="#fff"/>
<path d="M582.6 558.6H571.4L576.5 567L582.6 572Z" fill="#fff"/>
<path d="M648 558.6H660L655 567.5L648 572Z" fill="#fff"/>
<path d="M393 698.2L396.3 693.4L399.7 688.6L403.2 683.9L406.7 679.3L410.3 674.7L414 670.3L417.8 665.9L421.6 661.6L425.5 657.4L429.5 653.3L433.5 649.2L437.6 645.3L441.8 641.4L446 637.6L450.3 633.9L454.6 630.3L459 626.8L463.4 623.4L467.9 620.1L472.5 616.8L477.1 613.7L481.7 610.6L486.4 607.7L491.2 604.9L496 602.1L500.8 599.5L505.7 596.9L510.6 594.5L515.6 592.2L520.6 590L525.6 587.8L530.7 585.8L535.8 583.9L540.9 582.2L546.1 580.5L551.3 578.9L556.5 577.5L561.7 576.2L567 574.9L572.3 573.9L577.6 572.9L583 572.1L588.3 571.3L593.7 570.8L599.1 570.3L604.5 570L609.9 569.8L615.3 569.7L619.8 569.8L624.2 569.9L628.7 570.2L633.2 570.5L637.7 571L642.3 571.6L646.9 572.3L651.4 573L656 573.9L660.7 574.9L665.3 576L670 577.1L674.6 578.4L679.3 579.8L684 581.2L688.6 582.8L693.3 584.4L698 586.2L702.7 588L707.4 590L712.1 592L716.8 594.2L721.5 596.4L726.1 598.7L730.8 601.2L735.4 603.7L740 606.3L744.6 609L749.2 611.9L753.8 614.8L758.3 617.8L762.8 620.9L767.3 624.1L771.7 627.4L776.1 630.9L780.5 634.4L784.8 638L789.1 641.7L793.3 645.5L797.5 649.4L801.7 653.4L805.8 657.6L809.8 661.8L813.7 666.1L817.7 670.5L821.5 675L825.3 679.6L829 684.4L832.6 689.2L836.1 694.1L839.6 699.1L858 879L857.9 872.1L857.7 865.2L857.4 858.5L856.9 851.8L856.3 845.2L855.5 838.7L854.6 832.3L853.6 826L852.5 819.8L851.3 813.6L849.9 807.6L848.4 801.6L846.8 795.8L845.1 790L843.3 784.3L841.4 778.7L839.4 773.2L837.2 767.8L835 762.4L832.7 757.2L830.3 752L827.8 747L825.2 742L822.5 737.1L819.8 732.3L816.9 727.6L814 723L811 718.4L807.9 714L804.8 709.6L801.6 705.4L798.3 701.2L795 697.1L791.6 693.1L788.1 689.2L784.6 685.4L781 681.6L777.4 678L773.7 674.4L770 670.9L766.3 667.6L762.5 664.3L758.6 661L754.7 657.9L750.8 654.9L746.9 652L742.9 649.1L738.9 646.3L734.9 643.7L730.9 641.1L726.8 638.6L722.7 636.2L718.6 633.8L714.5 631.6L710.4 629.4L706.3 627.4L702.2 625.4L698 623.5L693.9 621.7L689.8 620L685.7 618.4L681.6 616.9L677.5 615.4L673.4 614.1L669.3 612.8L665.3 611.6L661.2 610.5L657.2 609.5L653.2 608.6L649.3 607.7L645.4 607L641.5 606.3L637.6 605.8L633.8 605.3L630 604.9L626.3 604.6L622.6 604.4L618.9 604.2L615.4 604.2L615.4 604.2L610.8 604.3L606.2 604.4L601.6 604.7L597.1 605.1L592.5 605.6L587.9 606.2L583.4 606.9L578.9 607.7L574.3 608.7L569.8 609.7L565.3 610.8L560.8 612.1L556.3 613.4L551.9 614.9L547.4 616.4L543 618L538.6 619.8L534.2 621.6L529.9 623.6L525.6 625.6L521.3 627.7L517 629.9L512.8 632.2L508.6 634.6L504.4 637.1L500.3 639.7L496.2 642.4L492.2 645.1L488.2 648L484.2 650.9L480.3 653.9L476.4 657L472.6 660.2L468.8 663.5L465 666.9L461.4 670.3L457.7 673.8L454.2 677.4L450.6 681.1L447.2 684.8L443.8 688.6L440.4 692.5L437.1 696.5L433.9 700.5L430.8 704.6L427.7 708.8L424.6 713.1L421.7 717.4L418.8 721.8L416 726.3L413.3 730.8L410.6 735.4L408 740.1L405.5 744.8L403.1 749.6L400.7 754.4L398.5 759.3L396.3 764.3L394.2 769.3L392.2 774.4L390.3 779.6L388.5 784.8L386.7 790L385.1 795.4L383.5 800.7L382.1 806.1L380.7 811.6L379.5 817.1L378.3 822.7L377.3 828.3L376.3 834L375.5 839.7L374.8 845.5L374.1 851.3L373.6 857.2L373.2 863.1L372.9 869L372.8 875L372.7 881Z" fill="#000"/>
<path d="M372.7 1452L372.7 881L372.8 875L372.9 869L373.2 863.1L373.6 857.2L374.1 851.3L374.8 845.5L375.5 839.7L376.3 834L377.3 828.3L378.3 822.7L379.5 817.1L380.7 811.6L382.1 806.1L383.5 800.7L385.1 795.4L386.7 790L388.5 784.8L390.3 779.6L392.2 774.4L394.2 769.3L396.3 764.3L398.5 759.3L400.7 754.4L403.1 749.6L405.5 744.8L408 740.1L410.6 735.4L413.3 730.8L416 726.3L418.8 721.8L421.7 717.4L424.6 713.1L427.7 708.8L430.8 704.6L433.9 700.5L437.1 696.5L440.4 692.5L443.8 688.6L447.2 684.8L450.6 681.1L454.2 677.4L457.7 673.8L461.4 670.3L465 666.9L468.8 663.5L472.6 660.2L476.4 657L480.3 653.9L484.2 650.9L488.2 648L492.2 645.1L496.2 642.4L500.3 639.7L504.4 637.1L508.6 634.6L512.8 632.2L517 629.9L521.3 627.7L525.6 625.6L529.9 623.6L534.2 621.6L538.6 619.8L543 618L547.4 616.4L551.9 614.9L556.3 613.4L560.8 612.1L565.3 610.8L569.8 609.7L574.3 608.7L578.9 607.7L583.4 606.9L587.9 606.2L592.5 605.6L597.1 605.1L601.6 604.7L606.2 604.4L610.8 604.3L615.4 604.2L618.9 604.2L622.6 604.4L626.3 604.6L630 604.9L633.8 605.3L637.6 605.8L641.5 606.3L645.4 607L649.3 607.7L653.2 608.6L657.2 609.5L661.2 610.5L665.3 611.6L669.3 612.8L673.4 614.1L677.5 615.4L681.6 616.9L685.7 618.4L689.8 620L693.9 621.7L698 623.5L702.2 625.4L706.3 627.4L710.4 629.4L714.5 631.6L718.6 633.8L722.7 636.2L726.8 638.6L730.9 641.1L734.9 643.7L738.9 646.3L742.9 649.1L746.9 652L750.8 654.9L754.7 657.9L758.6 661L762.5 664.3L766.3 667.6L770 670.9L773.7 674.4L777.4 678L781 681.6L784.6 685.4L788.1 689.2L791.6 693.1L795 697.1L798.3 701.2L801.6 705.4L804.8 709.6L807.9 714L811 718.4L814 723L816.9 727.6L819.8 732.3L822.5 737.1L825.2 742L827.8 747L830.3 752L832.7 757.2L835 762.4L837.2 767.8L839.4 773.2L841.4 778.7L843.3 784.3L845.1 790L846.8 795.8L848.4 801.6L849.9 807.6L851.3 813.6L852.5 819.8L853.6 826L854.6 832.3L855.5 838.7L856.3 845.2L856.9 851.8L857.4 858.5L857.7 865.2L857.9 872.1L858 879L858 1492L857.9 1496.7L857.8 1501.4L857.5 1506.1L857.2 1510.8L856.7 1515.6L856.1 1520.3L855.5 1525L854.7 1529.7L853.8 1534.4L852.9 1539.1L851.8 1543.8L850.6 1548.4L849.4 1553.1L848.1 1557.8L846.6 1562.4L845.1 1567L843.5 1571.6L841.8 1576.2L840 1580.7L838.1 1585.3L836.2 1589.8L834.1 1594.2L832 1598.7L829.8 1603.1L827.5 1607.5L825.2 1611.8L822.7 1616.1L820.2 1620.4L817.6 1624.6L815 1628.8L812.2 1632.9L809.4 1637L806.5 1641.1L803.6 1645.1L800.5 1649.1L797.4 1653L794.3 1656.8L791 1660.6L787.8 1664.3L784.4 1668L781 1671.6L777.5 1675.2L774 1678.7L770.4 1682.1L766.7 1685.5L763 1688.8L759.2 1692L755.4 1695.1L751.5 1698.2L747.6 1701.2L743.6 1704.1L739.5 1707L735.5 1709.7L731.3 1712.4L727.1 1715L722.9 1717.5L718.6 1719.9L714.3 1722.3L709.9 1724.5L705.5 1726.7L701.1 1728.7L696.6 1730.7L692.1 1732.5L687.5 1734.3L682.9 1736L678.3 1737.5L673.6 1739L668.9 1740.3L664.2 1741.5L659.4 1742.7L654.6 1743.7L649.8 1744.6L645 1745.4L640.1 1746.1L635.2 1746.6L630.3 1747L625.3 1747.3L620.3 1747.5L615.4 1747.6L610.1 1747.5L604.9 1747.4L599.7 1747.1L594.6 1746.6L589.5 1746.1L584.4 1745.5L579.4 1744.7L574.4 1743.8L569.4 1742.8L564.5 1741.7L559.7 1740.5L554.8 1739.2L550.1 1737.7L545.3 1736.2L540.6 1734.5L536 1732.8L531.4 1730.9L526.8 1729L522.3 1726.9L517.9 1724.7L513.5 1722.4L509.1 1720.1L504.8 1717.6L500.6 1715L496.4 1712.4L492.2 1709.6L488.1 1706.8L484.1 1703.8L480.1 1700.8L476.2 1697.6L472.4 1694.4L468.6 1691.1L464.8 1687.7L461.2 1684.2L457.5 1680.6L454 1676.9L450.5 1673.2L447.1 1669.3L443.7 1665.4L440.4 1661.4L437.2 1657.3L434 1653.2L431 1648.9L427.9 1644.6L425 1640.2L422.1 1635.7L419.3 1631.2L416.6 1626.6L413.9 1621.9L411.3 1617.1L408.8 1612.3L406.4 1607.4L404 1602.4L401.8 1597.3L399.6 1592.2L397.5 1587L395.4 1581.8L393.5 1576.5L391.6 1571.1L389.8 1565.7L388.1 1560.2L386.5 1554.6L384.9 1549L383.5 1543.4L382.1 1537.6L380.8 1531.8L379.7 1526L378.6 1520.1L377.6 1514.2L376.7 1508.2L375.8 1502.1L375.1 1496L374.5 1489.9L373.9 1483.7L373.5 1477.4L373.1 1471.1L372.9 1464.8L372.7 1458.4L372.7 1452Z" fill="#fff"/>
<rect x="921" y="1084.1" width="40.8" height="164.4" fill="#000"/>
<rect x="955" y="1092.6" width="15" height="147.4" fill="#000"/>
<rect x="889.2" y="1119.9" width="49.5" height="92.8" fill="#fff"/>
<rect x="889.2" y="1110.8" width="8.3" height="9.1" fill="#fff"/>
<rect x="889.2" y="1212.7" width="8.3" height="9.1" fill="#fff"/>
<rect x="905.5" y="1092.6" width="8.4" height="9.1" fill="#fff"/>
<rect x="905.5" y="1230.9" width="8.4" height="9.1" fill="#fff"/>
<rect x="946" y="1102.6" width="9" height="8.2" fill="#fff"/>
<rect x="946" y="1221.8" width="9" height="8.2" fill="#fff"/>
<rect x="390.4" y="871.9" width="30.9" height="588.8" fill="#000"/>
<rect x="372" y="863.4" width="42" height="17.2" fill="#000"/>
<rect x="372" y="1452" width="42" height="17.2" fill="#000"/>
<rect x="777.2" y="798" width="15.4" height="736.6" fill="#000"/>
<rect x="785.4" y="789.4" width="47.2" height="17.8" fill="#000"/>
<rect x="785.4" y="1525.4" width="47.2" height="17.8" fill="#000"/>
<rect x="825.3" y="735" width="15.4" height="63" fill="#000"/>
<rect x="825.3" y="1534.6" width="15.4" height="63" fill="#000"/>
<rect x="825.3" y="798" width="7.3" height="9.2" fill="#000"/>
<rect x="825.3" y="1525.4" width="7.3" height="9.2" fill="#000"/>
<rect x="801.3" y="826.8" width="60.7" height="17" fill="#000"/>
<rect x="801.3" y="1488.8" width="60.7" height="17" fill="#000"/>
<rect x="801.3" y="899.7" width="60.7" height="17.3" fill="#000"/>
<rect x="801.3" y="1415.6" width="60.7" height="17.3" fill="#000"/>
<rect x="793.5" y="835.3" width="15.1" height="72.6" fill="#000"/>
<rect x="793.5" y="1424.7" width="15.1" height="72.6" fill="#000"/>
<line x1="180.6" y1="762" x2="180.6" y2="1166.3" stroke="#6a6a6a" stroke-width="1"/>
<line x1="180.6" y1="1570.6" x2="180.6" y2="1166.3" stroke="#6a6a6a" stroke-width="1"/>
<line x1="212.3" y1="826" x2="212.3" y2="1110" stroke="#6a6a6a" stroke-width="1"/>
<line x1="212.3" y1="1506.6" x2="212.3" y2="1222.6" stroke="#6a6a6a" stroke-width="1"/>
<line x1="228.4" y1="826" x2="228.4" y2="1055" stroke="#6a6a6a" stroke-width="1"/>
<line x1="228.4" y1="1506.6" x2="228.4" y2="1277.6" stroke="#6a6a6a" stroke-width="1"/>
<line x1="189" y1="752.6" x2="332" y2="752.6" stroke="#6a6a6a" stroke-width="1"/>
<line x1="189" y1="1580" x2="332" y2="1580" stroke="#6a6a6a" stroke-width="1"/>
<line x1="575.7" y1="494.7" x2="655.3" y2="494.7" stroke="#6a6a6a" stroke-width="1"/>
<line x1="575.7" y1="1837.9" x2="655.3" y2="1837.9" stroke="#6a6a6a" stroke-width="1"/>
<line x1="566.9" y1="504" x2="566.9" y2="540" stroke="#6a6a6a" stroke-width="1"/>
<line x1="566.9" y1="1828.6" x2="566.9" y2="1792.6" stroke="#6a6a6a" stroke-width="1"/>
<line x1="664" y1="504" x2="664" y2="540" stroke="#6a6a6a" stroke-width="1"/>
<line x1="664" y1="1828.6" x2="664" y2="1792.6" stroke="#6a6a6a" stroke-width="1"/>
<line x1="914" y1="1102.2" x2="946" y2="1102.2" stroke="#6a6a6a" stroke-width="1"/>
<line x1="914" y1="1230.4" x2="946" y2="1230.4" stroke="#6a6a6a" stroke-width="1"/>
<line x1="955" y1="1111" x2="955" y2="1166.3" stroke="#6a6a6a" stroke-width="1"/>
<line x1="955" y1="1221.6" x2="955" y2="1166.3" stroke="#6a6a6a" stroke-width="1"/>
<line x1="889.2" y1="852" x2="889.2" y2="1110" stroke="#6a6a6a" stroke-width="1"/>
<line x1="889.2" y1="1222" x2="889.2" y2="1462" stroke="#6a6a6a" stroke-width="1"/>
<path d="M356.1 1166.3L356.1 881L356.2 874.7L356.3 868.3L356.7 862.1L357.1 855.9L357.6 849.7L358.3 843.6L359 837.5L359.9 831.4L360.9 825.4L362 819.5L363.3 813.6L364.6 807.8L366 802L367.5 796.3L369.2 790.6L370.9 785L372.7 779.4L374.7 773.9L376.7 768.5L378.8 763.1L381 757.8L383.3 752.5L385.7 747.3L388.2 742.2L390.8 737.1L393.4 732.1L396.2 727.2L399 722.4L401.9 717.6L404.8 712.8L407.9 708.2L411 703.6L414.2 699.1L417.5 694.7L420.8 690.3L424.2 686L427.7 681.8L431.3 677.7L434.9 673.6L438.6 669.7L442.3 665.8L446.1 662L449.9 658.2L453.8 654.6L457.8 651L461.8 647.6L465.9 644.2L470 640.9L474.2 637.7L478.4 634.5L482.7 631.5L487 628.6L491.4 625.7L495.8 623L500.2 620.3L504.7 617.7L509.2 615.3L513.8 612.9L518.4 610.6L523 608.5L527.7 606.4L532.3 604.4L537.1 602.5L541.8 600.8L546.6 599.1L551.4 597.6L556.2 596.1L561.1 594.8L565.9 593.6L570.8 592.4L575.7 591.4L580.6 590.6L585.6 589.8L590.5 589.1L595.5 588.6L600.4 588.1L605.4 587.8L610.4 587.7L615.3 587.6L619.3 587.6L623.4 587.8L627.4 588L631.5 588.4L635.7 588.8L639.9 589.3L644.1 589.9L648.3 590.7L652.5 591.5L656.8 592.4L661.1 593.4L665.4 594.4L669.8 595.6L674.1 596.9L678.5 598.3L682.8 599.7L687.2 601.3L691.6 602.9L696 604.6L700.4 606.4L704.8 608.4L709.2 610.4L713.6 612.5L718 614.7L722.3 616.9L726.7 619.3L731.1 621.8L735.4 624.4L739.7 627L744 629.8L748.3 632.6L752.5 635.5L756.7 638.6L760.9 641.7L765 644.9L769.2 648.2L773.2 651.6L777.3 655.1L781.2 658.7L785.2 662.4L789.1 666.2L792.9 670L796.7 674L800.4 678.1L804.1 682.2L807.7 686.5L811.3 690.8L814.8 695.3L818.2 699.8L821.5 704.4L824.8 709.2L827.9 714L831.1 718.9L834.1 723.9L837 729L839.8 734.2L842.6 739.5L845.3 744.9L847.8 750.3L850.3 755.9L852.6 761.6L854.9 767.3L857 773.2L859.1 779.1L861 785.1L862.8 791.3L864.5 797.5L866.1 803.8L867.5 810.2L868.8 816.7L870 823.2L871.1 829.9L872 836.6L872.8 843.5L873.4 850.4L873.9 857.4L874.3 864.5L874.5 871.7L874.6 879L874.6 1166.3L874.6 1166.3L874.6 1492L874.5 1497.1L874.4 1502.2L874.2 1507.2L873.8 1512.3L873.4 1517.4L872.8 1522.5L872.1 1527.5L871.4 1532.6L870.5 1537.6L869.5 1542.7L868.4 1547.7L867.2 1552.7L866 1557.7L864.6 1562.7L863.1 1567.6L861.5 1572.6L859.8 1577.5L858.1 1582.4L856.2 1587.3L854.3 1592.1L852.3 1596.9L850.1 1601.7L847.9 1606.4L845.6 1611.1L843.2 1615.8L840.8 1620.5L838.2 1625.1L835.6 1629.6L832.9 1634.1L830.1 1638.6L827.2 1643L824.2 1647.4L821.2 1651.8L818.1 1656L814.9 1660.3L811.7 1664.4L808.3 1668.6L804.9 1672.6L801.5 1676.6L797.9 1680.6L794.3 1684.5L790.6 1688.3L786.9 1692L783.1 1695.7L779.2 1699.3L775.2 1702.9L771.2 1706.3L767.2 1709.7L763 1713L758.8 1716.3L754.6 1719.4L750.3 1722.5L745.9 1725.5L741.5 1728.4L737 1731.2L732.4 1733.9L727.8 1736.6L723.2 1739.1L718.5 1741.6L713.7 1743.9L708.9 1746.2L704.1 1748.3L699.2 1750.3L694.2 1752.3L689.2 1754.1L684.2 1755.8L679.1 1757.4L674 1758.8L668.8 1760.2L663.6 1761.4L658.4 1762.5L653.1 1763.5L647.8 1764.4L642.5 1765.1L637.1 1765.7L631.7 1766.2L626.3 1766.5L620.8 1766.7L615.4 1766.8L609.7 1766.7L604 1766.5L598.4 1766.2L592.8 1765.8L587.3 1765.2L581.7 1764.5L576.3 1763.6L570.8 1762.7L565.4 1761.6L560.1 1760.4L554.8 1759.1L549.5 1757.6L544.3 1756.1L539.2 1754.4L534.1 1752.6L529 1750.6L524 1748.6L519.1 1746.4L514.2 1744.2L509.3 1741.8L504.5 1739.3L499.8 1736.7L495.2 1734L490.6 1731.2L486 1728.2L481.6 1725.2L477.2 1722.1L472.8 1718.9L468.5 1715.6L464.3 1712.1L460.2 1708.6L456.1 1705L452.1 1701.3L448.2 1697.5L444.3 1693.7L440.5 1689.7L436.8 1685.6L433.2 1681.5L429.6 1677.3L426.1 1672.9L422.7 1668.6L419.4 1664.1L416.1 1659.5L412.9 1654.9L409.8 1650.2L406.8 1645.4L403.9 1640.5L401 1635.6L398.2 1630.6L395.5 1625.5L392.9 1620.3L390.4 1615.1L388 1609.8L385.6 1604.5L383.3 1599L381.1 1593.5L379 1588L377 1582.4L375.1 1576.7L373.3 1571L371.6 1565.2L369.9 1559.3L368.4 1553.4L366.9 1547.4L365.5 1541.4L364.3 1535.4L363.1 1529.2L362 1523L361 1516.8L360.1 1510.5L359.3 1504.2L358.6 1497.8L357.9 1491.4L357.4 1485L356.9 1478.5L356.6 1471.9L356.3 1465.3L356.2 1458.7L356.1 1452L356.1 1166.3Z" fill="none" stroke="#6a6a6a" stroke-width="0.9"/>
<path d="M883.3 766L884.2 768.6L885.1 771.3L886 773.9L886.9 776.6L887.7 779.3L888.6 782L889.4 784.6L890.2 787.4L891 790.1L891.8 792.8L892.5 795.5L893.3 798.3L894 801L894.7 803.8L895.4 806.6L896 809.4L896.7 812.2L897.3 815L897.9 817.8L898.5 820.7L899.1 823.5L899.6 826.4L900.2 829.3L900.7 832.1L901.2 835L901.6 838L902.1 840.9L902.5 843.8L902.9 846.8L903.3 849.7L903.6 852.7L903.9 855.7L904.3 858.7L904.5 861.8L904.8 864.8L905 867.8L905.2 870.9" fill="none" stroke="#6a6a6a" stroke-width="0.9" stroke-dasharray="7 3"/>
<path d="M901.6 1464.6L901.4 1467.6L901.1 1470.6L900.9 1473.6L900.6 1476.5L900.3 1479.4L900 1482.4L899.6 1485.3L899.3 1488.2L898.9 1491L898.5 1493.9L898 1496.8L897.6 1499.6L897.1 1502.4L896.6 1505.2L896.1 1508L895.6 1510.8L895 1513.6L894.5 1516.4L893.9 1519.1L893.3 1521.9L892.6 1524.6L892 1527.3L891.3 1530L890.6 1532.7L889.9 1535.4L889.2 1538.1L888.5 1540.7L887.7 1543.4L886.9 1546L886.2 1548.7L885.3 1551.3L884.5 1553.9L883.7 1556.5L882.8 1559.1L882 1561.7L881.1 1564.2L880.2 1566.8L879.2 1569.4L878.3 1571.9L877.4 1574.4L876.4 1577L875.4 1579.5L874.4 1582L873.4 1584.5L872.4 1586.9L871.3 1589.4L870.3 1591.9L869.2 1594.3L868.1 1596.8L867 1599.2L865.9 1601.7L864.8 1604.1L863.6 1606.5L862.5 1608.9L861.3 1611.3L860.1 1613.7L858.9 1616.1L857.7 1618.4L856.5 1620.8L855.2 1623.1L854 1625.5L852.7 1627.8L851.4 1630.1L850.1 1632.4L848.8 1634.7L847.5 1637L846.1 1639.3" fill="none" stroke="#6a6a6a" stroke-width="0.9" stroke-dasharray="7 3"/>
<ellipse cx="611.8" cy="872.6" rx="104.6" ry="119.4" fill="#000"/>
<ellipse cx="611.8" cy="872.6" rx="88.6" ry="101.4" fill="#fff"/>
<ellipse cx="611.8" cy="1164.7" rx="104.6" ry="119.4" fill="#000"/>
<ellipse cx="611.8" cy="1164.7" rx="88.6" ry="101.4" fill="#fff"/>
<ellipse cx="611.8" cy="1463.8" rx="104.6" ry="119.4" fill="#000"/>
<ellipse cx="611.8" cy="1463.8" rx="88.6" ry="101.4" fill="#fff"/>
<path transform="translate(576.4,927.8) scale(0.0627,-0.07158)" d="M763 0H583V1147Q518 1085 412.5 1023T223 930V1104Q373 1174.5 485 1275T644 1470H763Z" fill="#000"/>
<text transform="translate(610,1219.9) scale(0.907,1)" x="0" y="0" font-family="'Liberation Sans', sans-serif" font-size="149.7" text-anchor="middle">2</text>
<text transform="translate(611.4,1519) scale(0.868,1)" x="0" y="0" font-family="'Liberation Sans', sans-serif" font-size="149.7" text-anchor="middle">3</text>
<rect x="454.6" y="1130" width="15.4" height="73" fill="#000"/>
<path d="M470 1181.5L488.9 1161.9L494.5 1164.8L501.2 1161.9L521 1196L511.5 1199L494 1179.4L468.3 1208.8L461 1203L470 1195Z" fill="#000"/>
</g>
</svg></body></html>
